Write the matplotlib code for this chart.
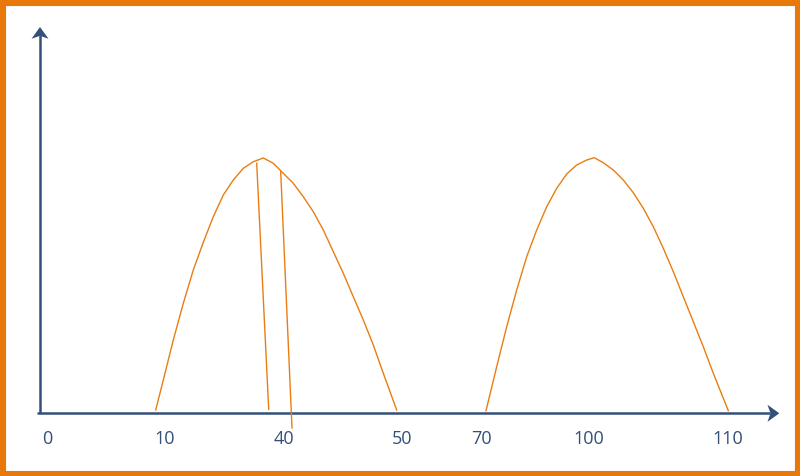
import numpy as np
from matplotlib import pyplot as plt
from matplotlib.patches import Polygon, Rectangle

# valores (unidades ~ pixeles desde el origen)
hump1_x = [115.7, 123.3, 133.3, 143.3, 153.3, 163.3, 173.3, 183.3, 193.3, 203.3,
           213.3, 223.3, 233.3, 243.3, 253.3, 263.3, 273.3, 283.3, 293.3, 303.3,
           313.3, 323.3, 333.3, 343.3, 356.7]
hump1_y = [3.3, 33.3, 73.3, 110, 143.3, 171, 196.6, 218.3, 233.3, 245,
           251.6, 255.3, 250, 240, 230, 216.6, 201.6, 183.3, 161.6, 140,
           116.6, 93.3, 68.3, 40, 3.3]

hump2_x = [446, 456.7, 466.7, 476.7, 486.7, 496.7, 506.7, 516.7, 526.7, 536.7,
           546.7, 554.3, 563.3, 573.3, 583.3, 593.3, 603.3, 613.3, 623.3, 633.3,
           643.3, 653.3, 663.3, 673.3, 688.3]
hump2_y = [2.6, 46.6, 86.6, 123.3, 156.6, 183.3, 206.6, 225, 239.3, 248.3,
           253.3, 255.6, 250.6, 243.3, 233.3, 220.6, 205, 186.6, 165, 141.6,
           116.6, 91.6, 66.6, 40, 2.6]

corte1_x = [216.7, 228.7]
corte1_y = [250, 4]
corte2_x = [240.7, 252]
corte2_y = [241.6, -14.7]

tick_pos = [7, 125, 244, 362, 441, 549, 688]
tick_labels = ['0', '10', '40', '50', '70', '100', '110']

azul = '#34507a'
naranja = '#e97d12'

fig = plt.figure(figsize=(8, 4.76), dpi=100)
ax = fig.add_axes([0, 0, 1, 1])
ax.set_xlim(-40, 760)
ax.set_ylim(-62.7, 413.3)
ax.axis('off')

# ejes
ax.plot([-3.3, 730], [0, 0], color=azul, lw=1.8, solid_capstyle='butt')
ax.plot([0, 0], [0, 378], color=azul, lw=1.8, solid_capstyle='butt')
ax.add_patch(Polygon([[739.3, 0], [727.5, 8.5], [730.5, 0], [727.5, -8.5]],
                     closed=True, color=azul, lw=0))
ax.add_patch(Polygon([[0, 386.3], [8.5, 374.5], [0, 377.5], [-8.5, 374.5]],
                     closed=True, color=azul, lw=0))

ax.plot(hump1_x, hump1_y, color=naranja, lw=1.0)
ax.plot(hump2_x, hump2_y, color=naranja, lw=1.0)
ax.plot(corte1_x, corte1_y, color=naranja, lw=1.0)
ax.plot(corte2_x, corte2_y, color=naranja, lw=1.0)

for p, lab in zip(tick_pos, tick_labels):
    ax.text(p, -25.2, lab, ha='center', va='center', color=azul,
            fontsize=13, family='Open Sans')

fig.patches.append(Rectangle((0, 0), 1, 1, transform=fig.transFigure,
                             fill=False, edgecolor='#e8780a', lw=8))

plt.savefig('out.png', dpi=100)
